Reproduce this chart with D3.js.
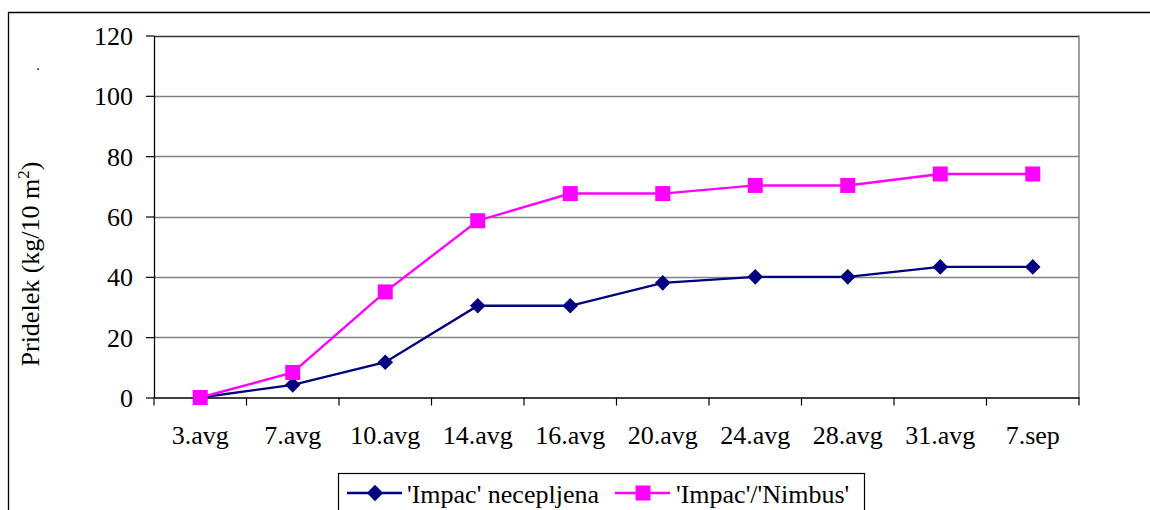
<!DOCTYPE html>
<html>
<head>
<meta charset="utf-8">
<script src="https://cdn.jsdelivr.net/npm/d3@7"></script>
<style>
  body { margin: 0; background: #fff; }
</style>
</head>
<body>
<svg id="chart" width="1150" height="510"></svg>
<script>
// data
var dates = ["3.avg", "7.avg", "10.avg", "14.avg", "16.avg", "20.avg", "24.avg", "28.avg", "31.avg", "7.sep"];
var necepljena = [0, 4.2, 11.7, 30.4, 30.4, 38.0, 40.0, 40.0, 43.3, 43.3];
var nimbus = [0, 8.3, 35.0, 58.6, 67.6, 67.6, 70.3, 70.3, 74.1, 74.1];
var yTicks = [0, 20, 40, 60, 80, 100, 120];
var seriesNames = ["'Impac' necepljena", "'Impac'/'Nimbus'"];

// pick the first serif face that is really installed
function pickSerif() {
	var ctx = document.createElement("canvas").getContext("2d"),
		probe = "Impac necepljena 0123456789",
		cands = ["Liberation Serif", "Times New Roman", "Tinos", "DejaVu Serif", "Noto Serif", "FreeSerif"];
	ctx.font = "40px monospace";
	var base = ctx.measureText(probe).width;
	for (var i = 0; i < cands.length; i++) {
		ctx.font = "40px '" + cands[i] + "', monospace";
		if (Math.abs(ctx.measureText(probe).width - base) > 0.5) return "'" + cands[i] + "', serif";
	}
	return "serif";
}

var svg = d3.select("#chart"),
	pLeft = 154, pRight = 1079, pTop = 35.5, pBottom = 397.5,
	fs = 26, serif = pickSerif(),
	navy = "#000080", pink = "#FF00FF";

var x = d3.scaleBand().domain(dates).range([pLeft, pRight]),
	y = d3.scaleLinear().domain([0, 120]).range([pBottom, pTop]);

// outer frame (only top and left edges show)
svg.append("path")
	.attr("d", "M8.5,510 V12.5 H1150")
	.attr("fill", "none").attr("stroke", "#000").attr("stroke-width", 1.3);

svg.append("text").attr("x", 38).attr("y", 70).attr("font-size", 14).attr("text-anchor", "middle").text(".");

// gridlines
svg.append("g").selectAll("line").data(yTicks.slice(1)).join("line")
	.attr("x1", pLeft).attr("x2", pRight)
	.attr("y1", d => Math.round(y(d)) + 0.5).attr("y2", d => Math.round(y(d)) + 0.5)
	.attr("stroke", d => d == 120 ? "#333" : "#808080").attr("stroke-width", 1.3);

// right border of plot
svg.append("line").attr("x1", pRight).attr("x2", pRight).attr("y1", pTop).attr("y2", pBottom)
	.attr("stroke", "#808080").attr("stroke-width", 1.5);

// y axis
var yAxis = svg.append("g").attr("transform", "translate(" + pLeft + ",0)")
	.call(d3.axisLeft(y).tickValues(yTicks).tickSize(8).tickPadding(13).tickSizeOuter(0));
yAxis.select(".domain").attr("stroke", "#000").attr("stroke-width", 1.3);
yAxis.selectAll(".tick line").attr("stroke", "#000").attr("stroke-width", 1.2);
yAxis.selectAll("text").attr("font-size", fs).attr("dy", "0.34em");

// x axis, ticks on category boundaries
var xAxis = svg.append("g").attr("transform", "translate(0," + pBottom + ")")
	.call(d3.axisBottom(x).tickSize(0).tickSizeOuter(0));
xAxis.select(".domain").attr("stroke", "#000").attr("stroke-width", 1.3);
xAxis.selectAll("text").attr("font-size", fs).attr("y", 46).attr("dy", 0);
xAxis.append("g").selectAll("line").data(dates.concat([null])).join("line")
	.attr("x1", (d, i) => pLeft + i * x.bandwidth()).attr("x2", (d, i) => pLeft + i * x.bandwidth())
	.attr("y1", 0).attr("y2", 8).attr("stroke", "#000").attr("stroke-width", 1.2);

svg.append("text")
	.attr("transform", "translate(39,264) rotate(-90)")
	.attr("text-anchor", "middle").attr("font-size", fs)
	.html("Pridelek (kg/10 m<tspan dy='-10' font-size='17'>2</tspan><tspan dy='10'>)</tspan>");

var line = d3.line().x((d, i) => x(dates[i]) + x.bandwidth() / 2).y(d => y(d));

function diamond(g, cx, cy, s) {
	g.append("path").attr("d", "M" + cx + "," + (cy - s) + "L" + (cx + s) + "," + cy + "L" + cx + "," + (cy + s) + "L" + (cx - s) + "," + cy + "Z")
		.attr("fill", navy);
}
function square(g, cx, cy, s) {
	g.append("rect").attr("x", cx - s).attr("y", cy - s).attr("width", 2 * s).attr("height", 2 * s)
		.attr("fill", pink);
}

var gs = svg.append("g");
gs.append("path").datum(necepljena).attr("d", line).attr("fill", "none").attr("stroke", navy).attr("stroke-width", 2.4);
necepljena.forEach((v, i) => diamond(gs, x(dates[i]) + x.bandwidth() / 2, y(v), 7.8));

var gp = svg.append("g");
gp.append("path").datum(nimbus).attr("d", line).attr("fill", "none").attr("stroke", pink).attr("stroke-width", 2.4);
nimbus.forEach((v, i) => square(gp, x(dates[i]) + x.bandwidth() / 2, y(v), 7.5));

// legend
var lg = svg.append("g");
lg.append("rect").attr("x", 338.5).attr("y", 473.5).attr("width", 526).attr("height", 50)
	.attr("fill", "#fff").attr("stroke", "#000").attr("stroke-width", 1.2);
lg.append("line").attr("x1", 347).attr("x2", 402).attr("y1", 493).attr("y2", 493).attr("stroke", navy).attr("stroke-width", 2.4);
diamond(lg, 375, 493, 8.2);
lg.append("text").attr("x", 407).attr("y", 503).attr("font-size", fs).text(seriesNames[0]);
lg.append("line").attr("x1", 615).attr("x2", 670).attr("y1", 493).attr("y2", 493).attr("stroke", pink).attr("stroke-width", 2.4);
square(lg, 643, 493, 7.5);
lg.append("text").attr("x", 676).attr("y", 503).attr("font-size", fs).text(seriesNames[1]);

// all text in the serif face, black
svg.selectAll("text").attr("font-family", serif).style("font-family", serif).attr("fill", "#000");
</script>
</body>
</html>
